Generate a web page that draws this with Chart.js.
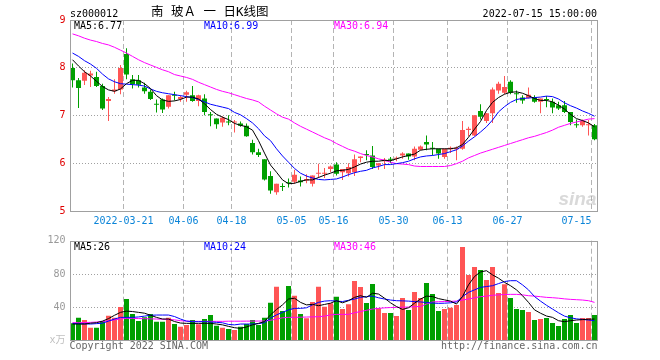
<!DOCTYPE html>
<html>
<head>
<meta charset="utf-8">
<script src="https://cdn.jsdelivr.net/npm/chart.js@4.4.0/dist/chart.umd.min.js"></script>
<style>
    body { margin: 0; background: #fff; }
    #wrap { position: relative; width: 660px; height: 360px; }
    canvas { position: absolute; left: 0; }
</style>
</head>
<body>
<div id="wrap">
    <canvas id="kChart" width="660" height="230" style="top:0"></canvas>
    <canvas id="volChart" width="660" height="130" style="top:230px"></canvas>
</div>
<script>
// 南玻A 日K, 2022-03-08 .. 2022-07-15
const dates = ['2022-03-08','2022-03-09','2022-03-10','2022-03-11','2022-03-14','2022-03-15','2022-03-16','2022-03-17','2022-03-18','2022-03-21',
    '2022-03-22','2022-03-23','2022-03-24','2022-03-25','2022-03-28','2022-03-29','2022-03-30','2022-03-31','2022-04-01','2022-04-06',
    '2022-04-07','2022-04-08','2022-04-11','2022-04-12','2022-04-13','2022-04-14','2022-04-15','2022-04-18','2022-04-19','2022-04-20',
    '2022-04-21','2022-04-22','2022-04-25','2022-04-26','2022-04-27','2022-04-28','2022-04-29','2022-05-05','2022-05-06','2022-05-09',
    '2022-05-10','2022-05-11','2022-05-12','2022-05-13','2022-05-16','2022-05-17','2022-05-18','2022-05-19','2022-05-20','2022-05-23',
    '2022-05-24','2022-05-25','2022-05-26','2022-05-27','2022-05-30','2022-05-31','2022-06-01','2022-06-02','2022-06-06','2022-06-07',
    '2022-06-08','2022-06-09','2022-06-10','2022-06-13','2022-06-14','2022-06-15','2022-06-16','2022-06-17','2022-06-20','2022-06-21',
    '2022-06-22','2022-06-23','2022-06-24','2022-06-27','2022-06-28','2022-06-29','2022-06-30','2022-07-01','2022-07-04','2022-07-05',
    '2022-07-06','2022-07-07','2022-07-08','2022-07-11','2022-07-12','2022-07-13','2022-07-14','2022-07-15'];

const xTickDates = ['2022-03-21','2022-04-06','2022-04-18','2022-05-05','2022-05-16','2022-05-30','2022-06-13','2022-06-27','2022-07-15'];

const opens = [8.00,7.74,7.73,7.84,7.81,7.62,7.31,7.51,7.55,8.29, 7.76,7.74,7.59,7.50,7.24,7.34,7.19,7.43,7.35,7.44,
    7.43,7.31,7.36,7.02,6.94,6.86,6.87,6.86,6.84,6.79, 6.43,6.24,6.09,5.74,5.40,5.53,5.60,5.62,5.65,5.65,
    5.58,5.79,5.79,5.89,5.98,5.82,5.80,5.82,6.12,6.19, 6.17,5.96,6.05,6.10,6.10,6.17,6.21,6.15,6.29,6.45,
    6.33,6.31,6.14,6.30,6.30,6.31,6.70,6.59,7.10,6.89, 7.05,7.53,7.48,7.71,7.47,7.38,7.37,7.39,7.29,7.34,
    7.29,7.22,7.22,7.08,6.82,6.80,6.80,6.80];
const highs = [8.09,7.79,7.95,7.94,7.92,7.67,7.39,7.76,8.06,8.41, 7.85,7.85,7.69,7.55,7.34,7.36,7.43,7.50,7.43,7.52,
    7.62,7.44,7.45,7.08,6.94,6.99,7.01,6.91,6.88,6.84, 6.50,6.31,6.09,5.84,5.58,5.59,5.69,5.87,5.73,5.78,
    5.75,6.00,5.91,5.96,6.03,5.89,6.01,6.19,6.15,6.28, 6.37,6.01,6.12,6.14,6.15,6.24,6.21,6.36,6.38,6.59,
    6.45,6.31,6.31,6.36,6.36,6.89,6.77,7.01,7.24,7.06, 7.59,7.71,7.83,7.74,7.53,7.43,7.59,7.43,7.36,7.41,
    7.36,7.29,7.31,7.08,6.92,6.92,6.91,6.83];
const lows = [7.59,7.16,7.64,7.60,7.60,7.12,6.89,7.46,7.45,7.76, 7.57,7.59,7.46,7.33,7.07,7.06,7.15,7.32,7.29,7.29,
    7.29,7.20,7.01,6.78,6.73,6.77,6.80,6.65,6.77,6.56, 6.19,6.14,5.65,5.37,5.35,5.43,5.50,5.58,5.52,5.59,
    5.52,5.70,5.70,5.82,5.75,5.66,5.73,5.74,6.03,6.07, 5.89,5.87,5.89,6.01,6.05,6.10,6.08,6.07,6.28,6.28,
    6.17,6.10,6.10,6.22,6.07,6.29,6.57,6.57,6.92,6.85, 6.85,7.46,7.45,7.45,7.27,7.25,7.36,7.27,7.05,7.18,
    7.05,7.12,7.06,6.80,6.75,6.77,6.59,6.49];
const closes = [7.74,7.58,7.90,7.88,7.62,7.15,7.35,7.55,8.00,7.86, 7.66,7.65,7.51,7.35,7.23,7.13,7.43,7.42,7.39,7.49,
    7.31,7.43,7.08,7.01,6.82,6.96,6.86,6.88,6.79,6.57, 6.24,6.18,5.67,5.44,5.58,5.51,5.59,5.77,5.61,5.68,
    5.75,5.81,5.81,5.94,5.79,5.89,5.93,6.09,6.15,6.18, 5.93,6.01,6.08,6.08,6.12,6.21,6.15,6.31,6.36,6.40,
    6.31,6.21,6.31,6.33,6.33,6.70,6.73,7.01,6.98,7.05, 7.55,7.67,7.60,7.48,7.45,7.32,7.44,7.29,7.36,7.33,
    7.17,7.15,7.08,6.87,6.80,6.89,6.82,6.51];

const ma5 = [8.17,8.04,7.92,7.83,7.72,7.61,7.54,7.51,7.56,7.67, 7.74,7.74,7.67,7.57,7.42,7.33,7.30,7.31,7.34,7.39,
    7.39,7.35,7.25,7.13,7.03,6.97,6.92,6.84,6.80,6.77, 6.70,6.48,6.22,5.97,5.82,5.66,5.58,5.59,5.63,5.66,
    5.66,5.71,5.76,5.80,5.85,5.86,5.88,5.93,5.99,6.03, 6.05,6.05,6.07,6.06,6.10,6.14,6.17,6.20,6.28,6.30,
    6.31,6.31,6.31,6.31,6.33,6.40,6.55,6.72,6.88,7.11, 7.28,7.38,7.45,7.49,7.50,7.47,7.42,7.36,7.32,7.32,
    7.29,7.22,7.14,7.03,6.94,6.90,6.85,6.77];
const ma10 = [8.31,8.24,8.15,8.08,7.99,7.87,7.77,7.71,7.67,7.66, 7.65,7.64,7.62,7.56,7.51,7.48,7.46,7.44,7.42,7.40,
    7.38,7.34,7.29,7.24,7.21,7.18,7.15,7.07,7.02,6.94, 6.85,6.73,6.58,6.48,6.31,6.16,6.03,5.90,5.80,5.74,
    5.70,5.67,5.66,5.67,5.68,5.72,5.77,5.81,5.84,5.86, 5.91,5.94,5.98,5.98,6.00,6.02,6.05,6.10,6.14,6.16,
    6.17,6.19,6.21,6.25,6.29,6.37,6.47,6.56,6.66,6.77, 6.91,7.08,7.19,7.28,7.34,7.36,7.37,7.38,7.39,7.41,
    7.40,7.35,7.27,7.21,7.16,7.10,7.05,6.99];
const ma30 = [8.71,8.67,8.62,8.58,8.55,8.51,8.48,8.43,8.37,8.31, 8.24,8.17,8.11,8.06,8.01,7.96,7.92,7.86,7.83,7.80,
    7.76,7.70,7.65,7.60,7.55,7.51,7.48,7.44,7.40,7.36, 7.33,7.29,7.20,7.12,7.04,6.97,6.93,6.85,6.78,6.72,
    6.66,6.60,6.54,6.49,6.42,6.36,6.30,6.26,6.21,6.17, 6.14,6.10,6.07,6.03,6.00,5.99,5.98,5.95,5.94,5.94,
    5.94,5.94,5.94,5.96,6.00,6.05,6.12,6.17,6.22,6.26, 6.30,6.34,6.38,6.42,6.46,6.50,6.54,6.57,6.61,6.65,
    6.70,6.76,6.80,6.84,6.87,6.90,6.93,6.94];

// volume, 万手
const volumes = [20.8,27.6,24.8,15.6,15.6,23.6,30,27.6,40.4,50, 32,23.6,28,32,22.8,22.8,27.6,20,16.8,18.8,
    24.8,19.6,26,30.8,18,15.6,14,12.8,16.8,20, 24.8,18.8,27.6,45.6,64.8,35.6,65.6,54,32,26.8,
    46.4,64.8,40.8,44.8,52.8,38,43.6,71.6,64.4,45.2, 68,38.8,33.2,33.2,29.6,51.2,36.8,58.4,51.2,69.2,
    56,35.6,38,39.6,42.8,112.4,78.8,88.4,84.8,72.8, 88.4,57.2,67.6,51.2,38,36.8,34.4,24.8,26,27.2,
    21.2,17.6,26,30.8,21.2,27.2,27.2,30.8];
const volMa5 = [20,20,20,21,21.6,23.5,26.5,30.5,34,35.5, 35,34,33,30.5,28,26,26,23,21.2,20.8,
    20.8,20.8,20.8,20.8,20,19,17.2,15.6,14.8,16.5, 19,20.8,23,31,37.5,43,50,51,46,43,
    43.6,42,43.5,45,48,45.5,48,52,54,52, 57,56,51,45.5,41,37.5,39.5,45,50,53.5,
    53,50.5,49,47.5,44,53,67,77,82.5,84, 79,75,70,66,61,54,46,37,33,29.6,
    28,24,22.8,24,24.8,25.3,25.8,26];
const volMa10 = [20.8,20.5,20.2,20,20.5,21,23.5,26,28,28, 28,28.5,29.5,30.5,30.8,30.8,30.8,29,26,23.5,
    22.8,22.8,22.8,22.5,22,21.5,19.5,19,20,20, 20,20.5,21.6,27,31,34,37,38.8,38.8,39.5,
    43,46,47.5,48,47.5,47,48.5,50,52,53, 53.5,51.5,50,48.8,48,47.8,47.5,47,46.5,45.8,
    45.2,44.8,45,45.5,46.5,52.8,58,61,64,65, 66,68.5,71,72,72,67,61,53,47.5,42.5,
    38,33.5,29.5,27.5,26.2,25.5,24.8,24];
const volMa30 = [21.6,21.6,21.8,22,22.4,23,24,25,26,26.8, 26.8,26.6,26.4,26.2,26,25.8,25.6,25,24,23.5,
    23.2,23.2,23.2,23.2,23.2,23.2,23.4,23.4,23.4,23.5, 23.5,23.6,23.6,24.5,26,27.5,28,28,28.2,28.4,
    28.6,28.8,29.5,31,31.6,31.6,31.6,33.5,35,36.5, 38,38.8,39.4,39.8,40,40.2,40.4,40.8,41,44,
    46.5,46.8,47,47.2,47.6,48.8,50,51.5,52.8,53.5, 54.5,55,55.4,55.6,55.6,55,54,53.5,52.8,52,
    51.6,51,50.2,49.6,49.2,48.8,48,46];

const UP = '#ff5555', DOWN = '#009f00';
const MONO = '"DejaVu Sans Mono", "Noto Sans CJK SC", monospace';
const last = arr => arr[arr.length - 1];

const barColors = closes.map((c, i) => c >= opens[i] ? UP : DOWN);

function txt(ctx, s, x, y, color, align, font) {
    ctx.font = font || '10px ' + MONO;
    ctx.fillStyle = color;
    ctx.textAlign = align || 'left';
    ctx.textBaseline = 'alphabetic';
    ctx.fillText(s, x, y);
}

function drawFrame(chart) {
    const { ctx, chartArea: a } = chart;
    const l = Math.round(a.left), t = Math.round(a.top);
    ctx.strokeStyle = '#a0a0a0';
    ctx.lineWidth = 1;
    ctx.strokeRect(l + 0.5, t + 0.5, Math.floor(a.right) - l, Math.floor(a.bottom) - t);
}

function xAxis(showLabels) {
    return {
        type: 'category',
        offset: true,
        grid: {
            offset: true,
            drawTicks: false,
            color: c => xTickDates.includes(dates[c.index]) ? '#b4b4b4' : 'rgba(0,0,0,0)'
        },
        border: { display: false, dash: [5, 3] },
        ticks: {
            display: showLabels,
            autoSkip: false,
            maxRotation: 0,
            padding: 4,
            labelOffset: -3,
            color: '#0a84d8',
            font: { family: MONO, size: 10 },
            callback: (v, i) => {
                const d = dates[i];
                if (!xTickDates.includes(d)) return '';
                if (d === xTickDates[0]) return d;
                // last label sits left of its grid line
                return d === last(xTickDates) ? d.slice(5) + '     ' : d.slice(5);
            }
        },
        afterFit: s => { s.height = showLabels ? 18.5 : 0; }
    };
}

function maLine(data, color) {
    return {
        type: 'line', data, borderColor: color, borderWidth: 1,
        pointRadius: 0, tension: 0, fill: false, order: 0
    };
}

const kFrame = {
    id: 'kFrame',
    beforeDatasetsDraw(chart) {
        const { ctx, chartArea: a } = chart;
        ctx.save();
        ctx.font = 'italic bold 19px "Liberation Sans", Arial, sans-serif';
        ctx.fillStyle = 'rgba(170,170,170,0.45)';
        ctx.textAlign = 'right';
        ctx.fillText('sina', a.right - 1, a.bottom - 7);
        ctx.restore();
    },
    afterDraw(chart) {
        const { ctx, chartArea: a } = chart;
        ctx.save();
        drawFrame(chart);
        txt(ctx, 'sz000012', 70, 17, '#000');
        txt(ctx, '南 玻Ａ 一 日K线图', 151, 16, '#000', 'left', '12.5px ' + MONO);
        txt(ctx, '2022-07-15 15:00:00', Math.floor(a.right), 17, '#000', 'right');
        txt(ctx, 'MA5:' + last(ma5).toFixed(2), 74, 29, '#000');
        txt(ctx, 'MA10:' + last(ma10).toFixed(2), 204, 29, '#0000ff');
        txt(ctx, 'MA30:' + last(ma30).toFixed(2), 334, 29, '#ff00ff');
        ctx.restore();
    }
};

const volFrame = {
    id: 'volFrame',
    afterDraw(chart) {
        const { ctx, chartArea: a } = chart;
        ctx.save();
        drawFrame(chart);
        txt(ctx, 'MA5:' + Math.round(last(volMa5)), 74, 20, '#000');
        txt(ctx, 'MA10:' + Math.round(last(volMa10)), 204, 20, '#0000ff');
        txt(ctx, 'MA30:' + Math.round(last(volMa30)), 334, 20, '#ff00ff');
        txt(ctx, 'Copyright 2022 SINA.COM', 69.5, 119, '#666');
        txt(ctx, 'http://finance.sina.com.cn', Math.floor(a.right) + 0.5, 119, '#666', 'right');
        ctx.restore();
    }
};

const common = {
    responsive: false,
    animation: false,
    events: [],
    plugins: { legend: { display: false }, tooltip: { enabled: false } }
};

new Chart(document.getElementById('kChart'), {
    type: 'bar',
    data: {
        labels: dates,
        datasets: [
            maLine(ma5, '#000000'),
            maLine(ma10, '#0000ff'),
            maLine(ma30, '#ff00ff'),
            {
                data: lows.map((l, i) => [l, highs[i]]),
                backgroundColor: barColors, barThickness: 1, grouped: false,
                inflateAmount: 0, borderWidth: 0, order: 2
            },
            {
                data: opens.map((o, i) => [o, closes[i]]),
                backgroundColor: barColors, barThickness: 5, grouped: false,
                inflateAmount: 0, borderWidth: 0, minBarLength: 1, order: 1
            }
        ]
    },
    options: {
        ...common,
        layout: { padding: { left: 0, right: 62.5, top: 20, bottom: 0 } },
        scales: {
            x: xAxis(true),
            y: {
                min: 5, max: 9,
                grid: {
                    drawTicks: false,
                    color: c => (c.tick.value > 5 && c.tick.value < 9) ? '#a0a0a0' : 'rgba(0,0,0,0)'
                },
                border: { display: false, dash: [1, 2] },
                ticks: { stepSize: 1, padding: 4, color: '#e00000', font: { family: MONO, size: 10 } },
                afterFit: s => { s.width = 69.5; }
            }
        }
    },
    plugins: [kFrame]
});

new Chart(document.getElementById('volChart'), {
    type: 'bar',
    data: {
        labels: dates,
        datasets: [
            maLine(volMa5, '#000000'),
            maLine(volMa10, '#0000ff'),
            maLine(volMa30, '#ff00ff'),
            {
                data: volumes, backgroundColor: barColors, barThickness: 5,
                inflateAmount: 0, borderWidth: 0, order: 1
            }
        ]
    },
    options: {
        ...common,
        layout: { padding: { left: 0, right: 62.5, top: 10.7, bottom: 19.3 } },
        scales: {
            x: xAxis(false),
            y: {
                min: 0, max: 120,
                grid: {
                    drawTicks: false,
                    color: c => (c.tick.value > 0 && c.tick.value < 120) ? '#a0a0a0' : 'rgba(0,0,0,0)'
                },
                border: { display: false, dash: [1, 2] },
                ticks: {
                    stepSize: 40, padding: 4,
                    color: c => c.tick.value === 0 ? '#c0c0c0' : '#999999',
                    font: { family: MONO, size: 10 },
                    callback: v => v === 0 ? 'x万' : v
                },
                afterFit: s => { s.width = 69.5; }
            }
        }
    },
    plugins: [volFrame]
});
</script>
</body>
</html>
